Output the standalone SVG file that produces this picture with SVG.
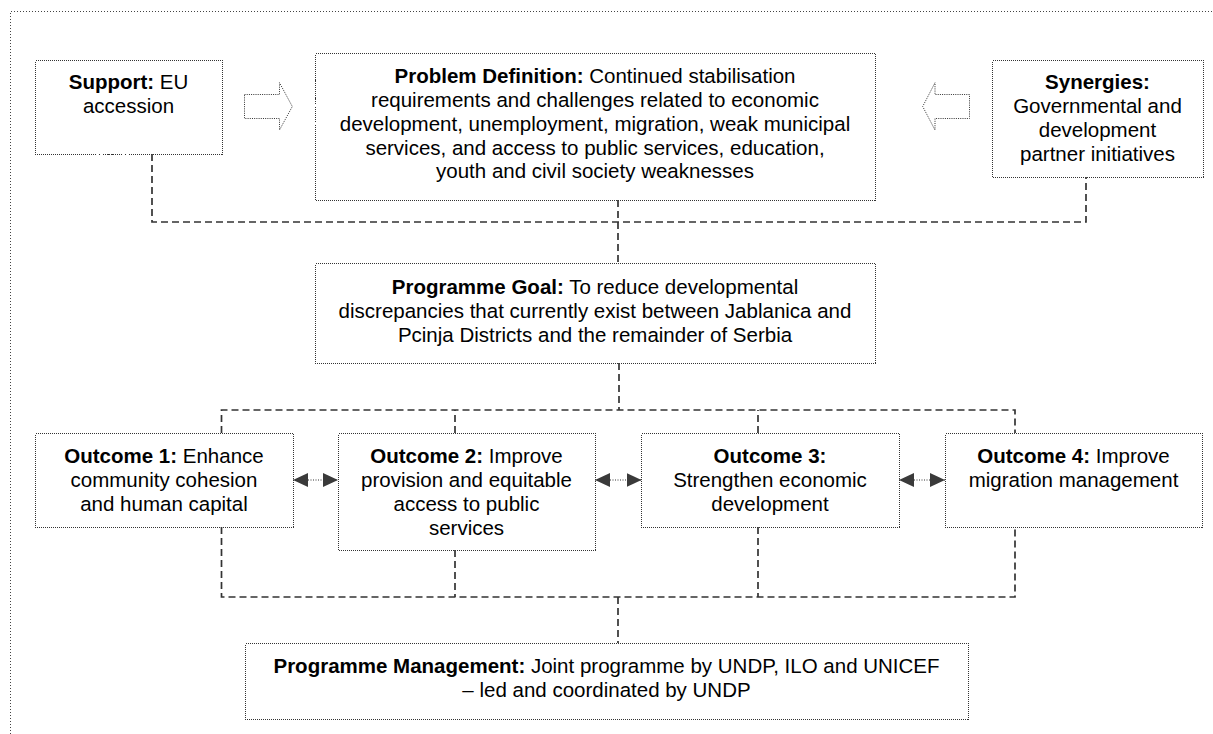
<svg xmlns="http://www.w3.org/2000/svg" width="1213" height="734" viewBox="0 0 1213 734">
<defs>
<style>
.box{fill:none;stroke:#333;stroke-width:1;stroke-dasharray:1 1;shape-rendering:crispEdges}
.frame{fill:none;stroke:#444;stroke-width:1;stroke-dasharray:1 2;shape-rendering:crispEdges}
.conn{fill:none;stroke:#333;stroke-width:1.7;stroke-dasharray:7 4}
.dbl{fill:none;stroke:#333;stroke-width:1;stroke-dasharray:1 1.5}
.blk{fill:none;stroke:#333;stroke-width:1;stroke-dasharray:1 1.2}
text{font-family:"Liberation Sans",Arial,sans-serif;font-size:20.5px;fill:#000;text-anchor:middle}
.b{font-weight:bold}
</style>
<marker id="tri" viewBox="0 0 15 14" refX="15" refY="7" markerWidth="15" markerHeight="14" markerUnits="userSpaceOnUse" orient="auto-start-reverse">
<path d="M0,0 L15,7 L0,14 Z" fill="#3a3a3a"/>
</marker>
</defs>
<rect width="1213" height="734" fill="#fff"/>
<rect class="frame" x="10.5" y="11.5" width="1220" height="740"/>

<g id="connectors">
<path class="conn" d="M152,154 V222 H1086 V177"/>
<path class="conn" d="M618,200 V263"/>
<path class="conn" d="M619,363 V410"/>
<path class="conn" d="M221.5,433 V410 H1015 V433"/>
<path class="conn" d="M455,433 V410"/>
<path class="conn" d="M758,433 V410"/>
<path class="conn" d="M221.5,527 V597 H1015 V527"/>
<path class="conn" d="M455,550 V597"/>
<path class="conn" d="M758,527 V597"/>
<path class="conn" d="M618,597 V643"/>
<line class="dbl" x1="293" y1="480" x2="338" y2="480" marker-start="url(#tri)" marker-end="url(#tri)"/>
<line class="dbl" x1="595" y1="480" x2="641.5" y2="480" marker-start="url(#tri)" marker-end="url(#tri)"/>
<line class="dbl" x1="899" y1="480" x2="945" y2="480" marker-start="url(#tri)" marker-end="url(#tri)"/>
<polygon class="blk" points="244.5,94.5 279.5,94.5 279.5,82.7 292.3,106.5 279.5,130 279.5,118.5 244.5,118.5"/>
<polygon class="blk" points="969.5,94.5 935,94.5 935,82.7 922.7,106.5 935,130 935,118.5 969.5,118.5"/>
</g>

<g id="support">
<rect class="box" x="35.5" y="60.5" width="187" height="94"/>
<text x="128.5" y="89"><tspan class="b">Support:</tspan> EU</text>
<text x="128.5" y="113">accession</text>
</g>

<g id="problem">
<rect class="box" x="315.5" y="53.5" width="560" height="147"/>
<text x="595" y="83"><tspan class="b">Problem Definition:</tspan> Continued stabilisation</text>
<text x="595" y="107">requirements and challenges related to economic</text>
<text x="595" y="131">development, unemployment, migration, weak municipal</text>
<text x="595" y="154.5">services, and access to public services, education,</text>
<text x="595" y="178">youth and civil society weaknesses</text>
</g>

<g id="synergies">
<rect class="box" x="992.5" y="60.5" width="211" height="117"/>
<text x="1097.5" y="89" class="b">Synergies:</text>
<text x="1097.5" y="113">Governmental and</text>
<text x="1097.5" y="137">development</text>
<text x="1097.5" y="161">partner initiatives</text>
</g>

<g id="goal">
<rect class="box" x="315.5" y="263.5" width="560" height="100"/>
<text x="595" y="293.5"><tspan class="b">Programme Goal:</tspan> To reduce developmental</text>
<text x="595" y="317.5">discrepancies that currently exist between Jablanica and</text>
<text x="595" y="341.5">Pcinja Districts and the remainder of Serbia</text>
</g>

<g id="outcome1">
<rect class="box" x="35.5" y="433.5" width="258" height="94"/>
<text x="164" y="462.5"><tspan class="b">Outcome 1:</tspan> Enhance</text>
<text x="164" y="486.5">community cohesion</text>
<text x="164" y="510.5">and human capital</text>
</g>

<g id="outcome2">
<rect class="box" x="338.5" y="433.5" width="257" height="117"/>
<text x="466.5" y="462.5"><tspan class="b">Outcome 2:</tspan> Improve</text>
<text x="466.5" y="486.5">provision and equitable</text>
<text x="466.5" y="510.5">access to public</text>
<text x="466.5" y="534.5">services</text>
</g>

<g id="outcome3">
<rect class="box" x="641.5" y="433.5" width="258" height="94"/>
<text x="770" y="462.5" class="b">Outcome 3:</text>
<text x="770" y="486.5">Strengthen economic</text>
<text x="770" y="510.5">development</text>
</g>

<g id="outcome4">
<rect class="box" x="945.5" y="433.5" width="257" height="94"/>
<text x="1073.5" y="462.5"><tspan class="b">Outcome 4:</tspan> Improve</text>
<text x="1073.5" y="486.5">migration management</text>
</g>

<g id="management">
<rect class="box" x="245.5" y="643.5" width="723" height="76"/>
<text x="606.5" y="673"><tspan class="b">Programme Management:</tspan> Joint programme by UNDP, ILO and UNICEF</text>
<text x="606.5" y="697">– led and coordinated by UNDP</text>
</g>
</svg>
